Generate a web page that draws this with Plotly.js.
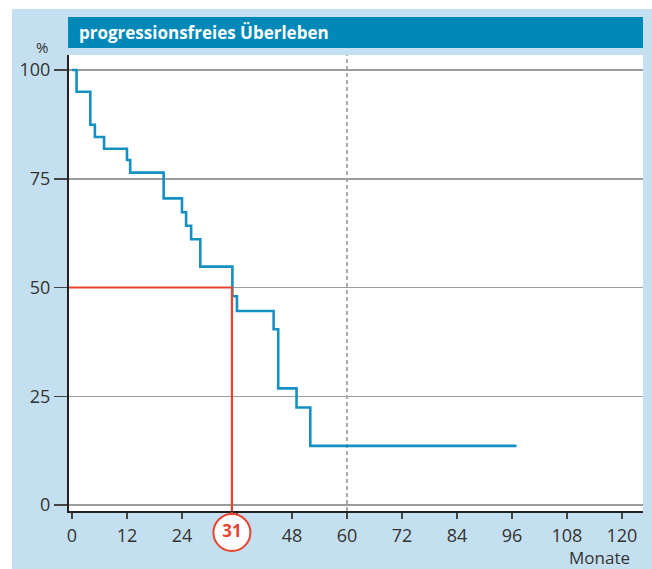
<!DOCTYPE html>
<html>
<head>
<meta charset="utf-8">
<script src="https://cdn.plot.ly/plotly-3.0.1.min.js"></script>
<style>html,body{margin:0;padding:0;background:#fff;}#chart{width:652px;height:569px;}</style>
</head>
<body>
<div id="chart"></div>
<script>
// Kaplan-Meier step data (months, % progression-free)
const months = [0, 1, 4, 5, 7, 12, 12.7, 20, 24, 24.9, 26, 28, 35, 36, 44, 45, 49, 52, 97];
const survival = [100, 95, 87.4, 84.6, 81.9, 79.3, 76.4, 70.5, 67.3, 64.2, 61.1, 54.8, 48.0, 44.6, 40.4, 26.8, 22.4, 13.6, 13.6];
const xTickVals = [0, 12, 24, 36, 48, 60, 72, 84, 96, 108, 120];
const xTickText = ["0", "12", "24", "", "48", "60", "72", "84", "96", "108", "120"];
const yTickVals = [0, 25, 50, 75, 100];
const medianLevel = 50;
const medianMonth = 34.9;   // where the curve crosses 50 %
const medianLabel = "31";
const refLineMonth = 60;
const titleText = "progressionsfreies Überleben";

const W = 652, H = 569;
const px = v => v / W, py = v => 1 - v / H;
const xRange = [-0.65, 124.6], yRange = [-1.38, 103.45];
const FONT = "Open Sans, Noto Sans, sans-serif";
const RED = "#e8432f";

const traces = [
  {
    x: months, y: survival, type: "scatter", mode: "lines",
    line: {shape: "hv", color: "#1690c2", width: 2.6},
    hoverinfo: "skip"
  },
  {
    x: [xRange[0], medianMonth, medianMonth], y: [medianLevel, medianLevel, yRange[0]],
    type: "scatter", mode: "lines",
    line: {color: RED, width: 2.2}, hoverinfo: "skip"
  },
  // label strip below the x axis (secondary y axis, 0..1)
  {
    x: [medianMonth, medianMonth], y: [1, 0.64], yaxis: "y2",
    type: "scatter", mode: "lines",
    line: {color: RED, width: 2.2}, hoverinfo: "skip"
  },
  {
    x: [medianMonth], y: [0.64], yaxis: "y2", type: "scatter", mode: "markers+text",
    marker: {size: 37, color: "#ffffff", line: {color: RED, width: 2}},
    text: [medianLabel], textposition: "middle center",
    textfont: {family: FONT, size: 17, color: RED, weight: "bold"},
    cliponaxis: false, hoverinfo: "skip"
  }
];

const layout = {
  width: W, height: H,
  margin: {l: 0, r: 0, t: 0, b: 0},
  paper_bgcolor: "#ffffff",
  plot_bgcolor: "rgba(0,0,0,0)",
  showlegend: false,
  font: {family: FONT, color: "#333333", size: 16},
  xaxis: {
    domain: [px(69), px(643)], range: xRange,
    tickvals: xTickVals, ticktext: xTickText,
    ticks: "outside", ticklen: 6, tickwidth: 1.5, tickcolor: "#444",
    ticklabelstandoff: 1,
    showgrid: false, zeroline: false,
    showline: true, linecolor: "#222", linewidth: 2,
    tickfont: {size: 18, color: "#333"}, fixedrange: true
  },
  yaxis: {
    domain: [py(511), py(55)], range: yRange,
    tickvals: yTickVals,
    ticks: "outside", ticklen: 13, tickwidth: 1.5, tickcolor: "#444",
    showgrid: true, gridcolor: "#9c9c9c", gridwidth: 1.5,
    zeroline: false,
    showline: true, linecolor: "#222", linewidth: 2,
    tickfont: {size: 18, color: "#333"}, fixedrange: true
  },
  yaxis2: {
    domain: [py(569), py(512)], range: [0, 1], anchor: "x",
    visible: false, fixedrange: true
  },
  shapes: [
    {type: "rect", xref: "paper", yref: "paper", x0: px(12), x1: 1, y0: 0, y1: py(9),
     fillcolor: "#c4e0f0", line: {width: 0}, layer: "below"},
    {type: "rect", xref: "paper", yref: "paper", x0: px(68), x1: px(643), y0: py(511), y1: py(55),
     fillcolor: "#ffffff", line: {width: 0}, layer: "below"},
    {type: "rect", xref: "paper", yref: "paper", x0: px(68), x1: px(643), y0: py(48), y1: py(17),
     fillcolor: "#0089b8", line: {width: 0}, layer: "below"},
    {type: "line", xref: "x", yref: "y", x0: refLineMonth, x1: refLineMonth, y0: yRange[0], y1: yRange[1],
     line: {color: "#aaaaaa", width: 2, dash: "4px,3px"}, layer: "below"}
  ],
  annotations: [
    {text: titleText, xref: "paper", yref: "paper", x: px(77), y: py(32.5),
     xanchor: "left", yanchor: "middle", showarrow: false,
     font: {family: FONT, size: 17, color: "#ffffff", weight: "bold"}},
    {text: "%", xref: "paper", yref: "paper", x: px(42), y: py(46.5),
     xanchor: "center", yanchor: "middle", showarrow: false,
     font: {family: FONT, size: 15, color: "#333"}},
    {text: "Monate", xref: "paper", yref: "paper", x: px(632), y: py(557),
     xanchor: "right", yanchor: "middle", showarrow: false,
     font: {family: FONT, size: 17, color: "#333"}}
  ]
};

Plotly.newPlot("chart", traces, layout, {displayModeBar: false, staticPlot: true});
</script>
</body>
</html>
